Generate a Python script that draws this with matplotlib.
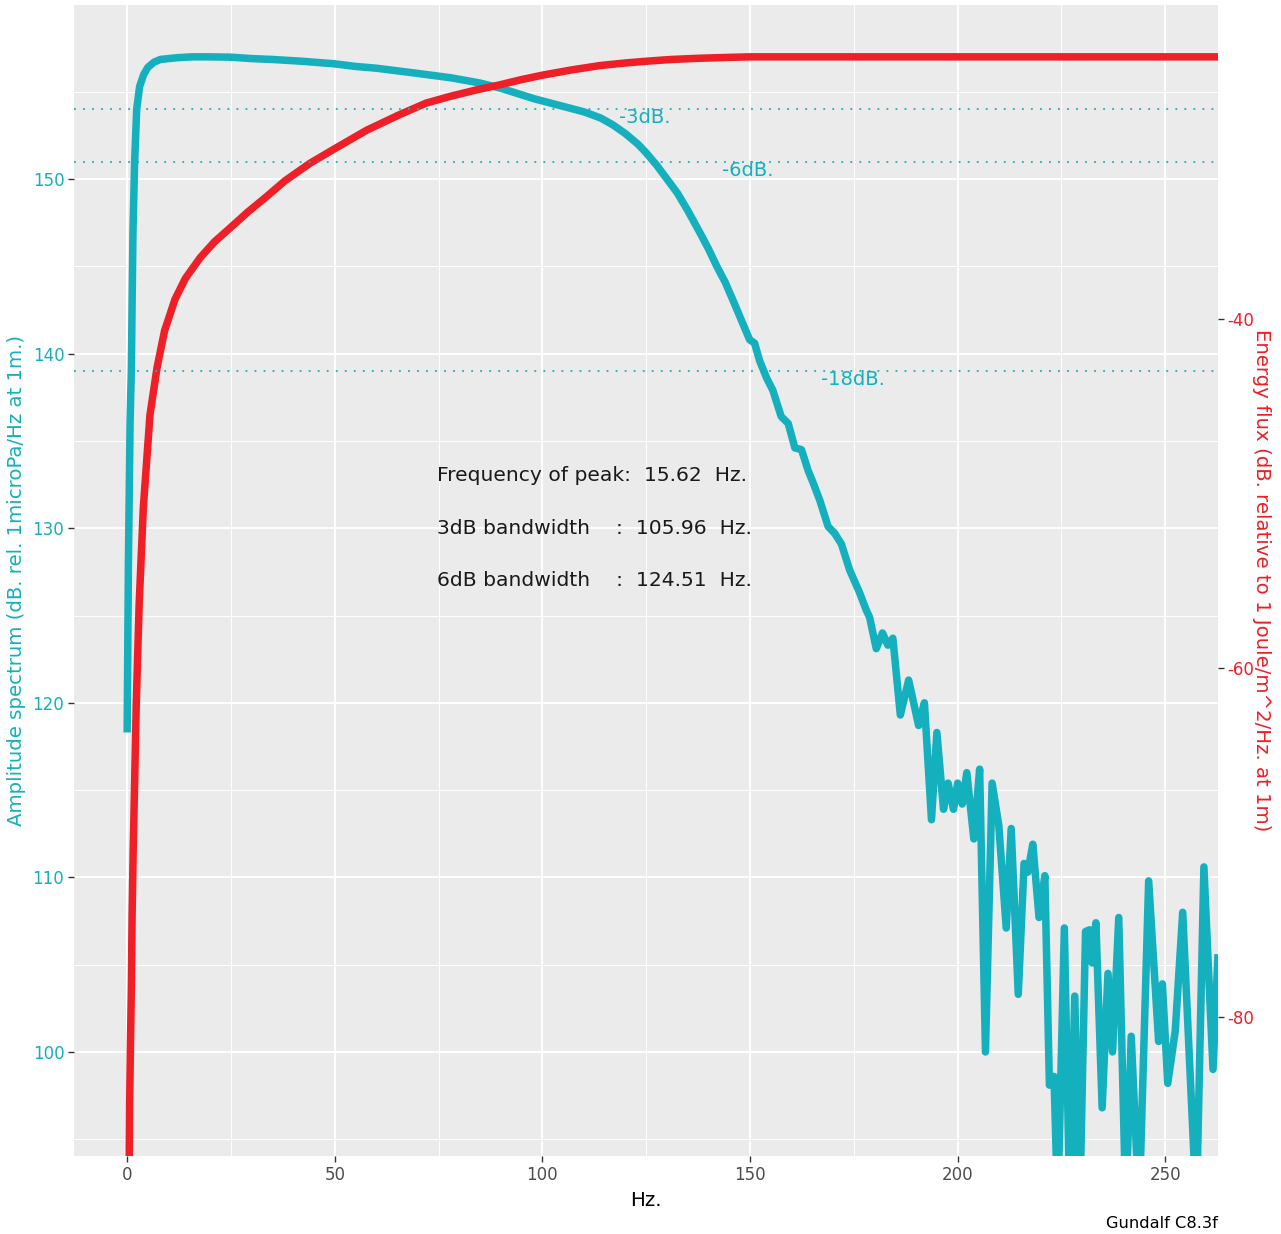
import matplotlib
matplotlib.use("Agg")
import matplotlib.pyplot as plt
import numpy as np

plt.rcParams['font.family'] = ['DejaVu Sans']
plt.rcParams['axes.unicode_minus'] = False

# ---- data ----
amp_hz = [0.0, 0.3, 0.7, 1.0, 1.4, 1.8, 2.3, 3.0, 4.0, 5.0, 6.5, 8.0, 10, 12, 15.6, 20, 25, 30,
          35, 42, 50, 55, 60, 65, 70, 78, 85, 90, 98, 106, 110, 114, 117, 120, 123, 125, 127.5,
          130, 132.5, 135, 138, 140, 142, 144, 146, 148.3, 149.9, 151.1, 152.3, 154, 155.5,
          157.5, 159.2, 160.8, 162.4, 164, 165.2, 166.8, 168.8, 170.4, 172.0, 174.0, 176.4,
          178.0, 178.8, 180.4, 181.9, 183.2, 184.4, 186.2, 188.2, 190.6, 192.0, 193.7, 195.0,
          196.6, 197.7, 199.0, 200.0, 201.1, 202.2, 203.9, 205.3, 206.7, 208.3, 209.9, 211.7,
          212.9, 214.6, 216.0, 216.9, 218.1, 219.6, 221.0, 222.1, 223.2, 224.1, 225.7, 227.0,
          228.2, 229.4, 230.8, 231.8, 232.4, 233.3, 234.8, 236.2, 237.3, 238.8, 240.5, 241.8,
          243.7, 246.0, 248.4, 249.3, 250.6, 252.4, 254.2, 255.8, 257.5, 259.3, 261.5, 262.7]
amp_db = [118.3, 128, 136, 139, 147, 151, 154, 155.3, 156.0, 156.4, 156.7, 156.85, 156.9, 156.95,
          157.0, 157.0, 156.98, 156.9, 156.85, 156.75, 156.6, 156.45, 156.35, 156.2, 156.05,
          155.8, 155.5, 155.2, 154.6, 154.1, 153.85, 153.5, 153.1, 152.6, 152.0, 151.5, 150.8,
          150.0, 149.2, 148.2, 146.9, 146.0, 145.0, 144.1, 143.0, 141.7, 140.8, 140.6, 139.6,
          138.6, 137.9, 136.4, 136.0, 134.6, 134.5, 133.3, 132.6, 131.6, 130.1, 129.7, 129.1,
          127.6, 126.3, 125.3, 124.9, 123.1, 124.0, 123.3, 123.7, 119.3, 121.3, 118.7, 120.0,
          113.3, 118.3, 113.9, 115.4, 113.9, 115.4, 114.2, 116.0, 112.2, 116.2, 100.0, 115.4,
          113.0, 107.1, 112.8, 103.3, 110.8, 110.3, 111.9, 107.7, 110.1, 98.1, 98.6, 91.0,
          107.1, 91.0, 103.2, 91.0, 106.9, 107.0, 105.1, 107.4, 96.8, 104.5, 100.0, 107.7,
          91.0, 100.9, 91.0, 109.8, 100.6, 103.9, 98.2, 101.2, 108.0, 99.7, 91.0, 110.6,
          99.0, 105.6]

flux_hz = [0.45, 0.6, 0.8, 1.0, 1.2, 1.45, 1.7, 2.2, 2.9, 3.9, 5.5, 7.2, 9, 11.5, 14, 17.6,
           21, 24.8, 29, 33.6, 38, 44, 49.7, 57.7, 65.7, 72, 78, 84, 89.8, 95, 100.2, 107,
           113.8, 120, 125.1, 131, 137.9, 145, 150, 262.7]
flux_db = [-90.0, -84.9, -81.5, -78.5, -74.0, -70.5, -67.7, -62.0, -56.3, -50.8, -45.5, -42.8,
           -40.7, -38.9, -37.7, -36.5, -35.6, -34.8, -33.9, -33.0, -32.1, -31.1, -30.3, -29.2,
           -28.3, -27.65, -27.25, -26.9, -26.6, -26.3, -26.04, -25.75, -25.5, -25.35, -25.25,
           -25.15, -25.08, -25.03, -25.0, -25.0]

level_db = [154, 151, 139]
level_lbl = ["-3dB.", "-6dB.", "-18dB."]
level_lbl_x = [124.7, 149.5, 174.8]

info_lines = ["Frequency of peak:  15.62  Hz.",
              "3dB bandwidth    :  105.96  Hz.",
              "6dB bandwidth    :  124.51  Hz."]
info_y = [133.0, 130.0, 127.0]

OFFSET = 182.0  # left axis value = right axis value + OFFSET

TEAL = '#15B0BD'
RED = '#EE1F26'

fig = plt.figure(figsize=(12.81, 12.34), dpi=100)
ax = fig.add_axes([74/1281, 1-1156/1234, (1218-74)/1281, (1156-5)/1234])
ax.set_facecolor('#EBEBEB')
for s in ax.spines.values():
    s.set_visible(False)

ax.set_xlim(-12.8, 262.7)
ax.set_ylim(94.04, 159.97)
ax.set_xticks([0, 50, 100, 150, 200, 250])
ax.set_xticks([25, 75, 125, 175, 225], minor=True)
ax.set_yticks([100, 110, 120, 130, 140, 150])
ax.set_yticks([95, 105, 115, 125, 135, 145, 155], minor=True)
ax.grid(which='major', color='white', linewidth=1.4, zorder=0)
ax.grid(which='minor', color='white', linewidth=0.7, zorder=0)
ax.set_axisbelow(True)
ax.tick_params(which='minor', length=0)
ax.tick_params(which='major', length=4, width=1.0, color='#333333')
ax.tick_params(axis='x', labelsize=12, labelcolor='#4D4D4D', pad=3)
ax.tick_params(axis='y', labelsize=12, labelcolor=TEAL, pad=3)

ax.plot(amp_hz, amp_db, color=TEAL, linewidth=5.4, solid_joinstyle='round',
        solid_capstyle='butt', zorder=3)
ax.plot(flux_hz, np.array(flux_db) + OFFSET, color=RED, linewidth=5.4,
        solid_joinstyle='round', zorder=4)

for lv in level_db:
    ax.axhline(lv, color=TEAL, linewidth=1.3, linestyle=(0, (1, 4.0)), zorder=5)
for lbl, lx, lv in zip(level_lbl, level_lbl_x, level_db):
    ax.text(lx, lv - 0.5, lbl, color=TEAL, fontsize=14, ha='center', va='center', zorder=6)

for line, yy in zip(info_lines, info_y):
    ax.text(74.6, yy, line, color='#1A1A1A', fontsize=14.6, ha='left', va='center', zorder=6)

sec = ax.secondary_yaxis('right', functions=(lambda y: y - OFFSET, lambda y: y + OFFSET))
sec.set_yticks([-40, -60, -80])
sec.tick_params(length=4, width=1.0, color='#333333', labelsize=12, labelcolor=RED, pad=3)
for s in sec.spines.values():
    s.set_visible(False)
sec.set_ylabel("Energy flux (dB. relative to 1 Joule/m^2/Hz. at 1m)", color=RED,
               fontsize=14.2, rotation=270, labelpad=12)

ax.set_xlabel("Hz.", fontsize=14.2, color='black', labelpad=5)
ax.set_ylabel("Amplitude spectrum (dB. rel. 1microPa/Hz at 1m.)", color=TEAL,
              fontsize=14.2, labelpad=5)

fig.text(1218/1281, 1-1224/1234, "Gundalf C8.3f", ha='right', va='center',
         fontsize=11.7, color='black')

fig.savefig("out.png", dpi=100, facecolor='white')
